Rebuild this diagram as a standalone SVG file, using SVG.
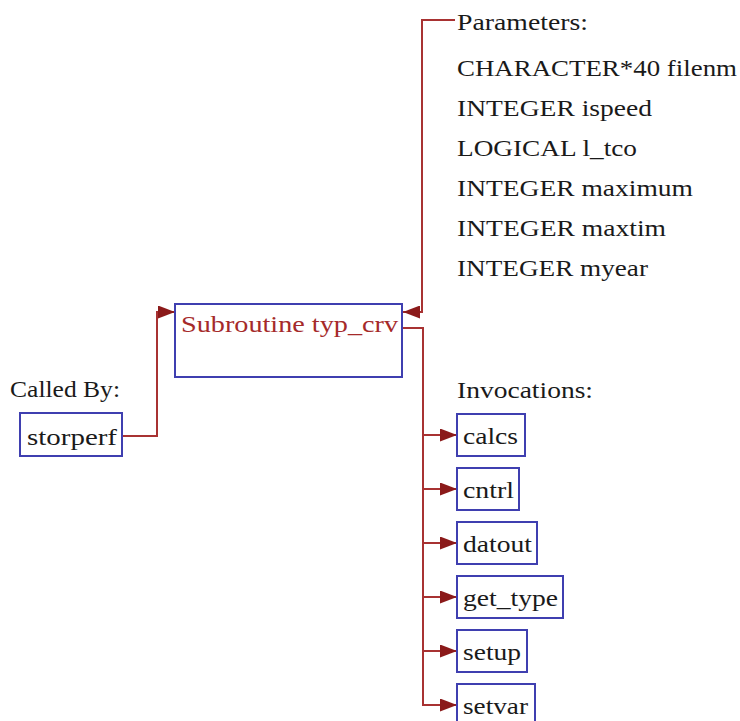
<svg xmlns="http://www.w3.org/2000/svg" width="740" height="721" viewBox="0 0 740 721">
<defs>
<marker id="ah" viewBox="0 0 17 13" refX="17" refY="6.5" markerWidth="17" markerHeight="13" markerUnits="userSpaceOnUse" orient="auto">
<path d="M0,0 L17,6.5 L0,13 Z" fill="#8b1a1a"/>
</marker>
<style>
.box{fill:#fff;stroke:#3f3fb0;stroke-width:2}
.t{font-family:"Liberation Serif","Times New Roman",serif;font-size:23px;fill:#1a1a1a}
.title{font-family:"Liberation Serif","Times New Roman",serif;font-size:23px;fill:#a52a2a}
.c{fill:none;stroke:#a83232;stroke-width:2;marker-end:url(#ah)}
</style>
</defs>
<rect width="740" height="721" fill="#fff"/>
<g id="connectors">
<path class="c" d="M122,436 H157 V312 H175"/>
<path class="c" d="M455,20 H422 V312 H403"/>
<path class="c" d="M402,328 H423 V435 H457"/>
<path class="c" d="M423,435 V489 H457"/>
<path class="c" d="M423,489 V543 H457"/>
<path class="c" d="M423,543 V597 H457"/>
<path class="c" d="M423,597 V651 H457"/>
<path class="c" d="M423,651 V705 H457"/>
</g>
<g id="main">
<rect class="box" x="175" y="304" width="227" height="73"/>
<text class="title" x="181" y="332" textLength="217" lengthAdjust="spacingAndGlyphs">Subroutine typ_crv</text>
</g>
<g id="calledby">
<text class="t" x="10" y="397" textLength="110" lengthAdjust="spacingAndGlyphs">Called By:</text>
</g>
<g id="storperf">
<rect class="box" x="20" y="413" width="102" height="43"/>
<text class="t" x="27" y="445" textLength="90" lengthAdjust="spacingAndGlyphs">storperf</text>
</g>
<g id="parameters">
<text class="t" x="457" y="30" textLength="131" lengthAdjust="spacingAndGlyphs">Parameters:</text>
<text class="t" x="457" y="76" textLength="280" lengthAdjust="spacingAndGlyphs">CHARACTER*40 filenm</text>
<text class="t" x="457" y="116" textLength="195" lengthAdjust="spacingAndGlyphs">INTEGER ispeed</text>
<text class="t" x="457" y="156" textLength="180" lengthAdjust="spacingAndGlyphs">LOGICAL l_tco</text>
<text class="t" x="457" y="196" textLength="236" lengthAdjust="spacingAndGlyphs">INTEGER maximum</text>
<text class="t" x="457" y="236" textLength="209" lengthAdjust="spacingAndGlyphs">INTEGER maxtim</text>
<text class="t" x="457" y="276" textLength="191" lengthAdjust="spacingAndGlyphs">INTEGER myear</text>
</g>
<g id="invocations">
<text class="t" x="457" y="398" textLength="136" lengthAdjust="spacingAndGlyphs">Invocations:</text>
</g>
<g id="calcs">
<rect class="box" x="457" y="414" width="68" height="42"/>
<text class="t" x="463" y="444" textLength="55" lengthAdjust="spacingAndGlyphs">calcs</text>
</g>
<g id="cntrl">
<rect class="box" x="457" y="468" width="62" height="42"/>
<text class="t" x="463" y="498" textLength="51" lengthAdjust="spacingAndGlyphs">cntrl</text>
</g>
<g id="datout">
<rect class="box" x="457" y="522" width="80" height="42"/>
<text class="t" x="463" y="552" textLength="69" lengthAdjust="spacingAndGlyphs">datout</text>
</g>
<g id="get_type">
<rect class="box" x="457" y="576" width="106" height="42"/>
<text class="t" x="463" y="606" textLength="95" lengthAdjust="spacingAndGlyphs">get_type</text>
</g>
<g id="setup">
<rect class="box" x="457" y="630" width="70" height="42"/>
<text class="t" x="463" y="660" textLength="58" lengthAdjust="spacingAndGlyphs">setup</text>
</g>
<g id="setvar">
<rect class="box" x="457" y="684" width="78" height="42"/>
<text class="t" x="463" y="714" textLength="65" lengthAdjust="spacingAndGlyphs">setvar</text>
</g>
</svg>
